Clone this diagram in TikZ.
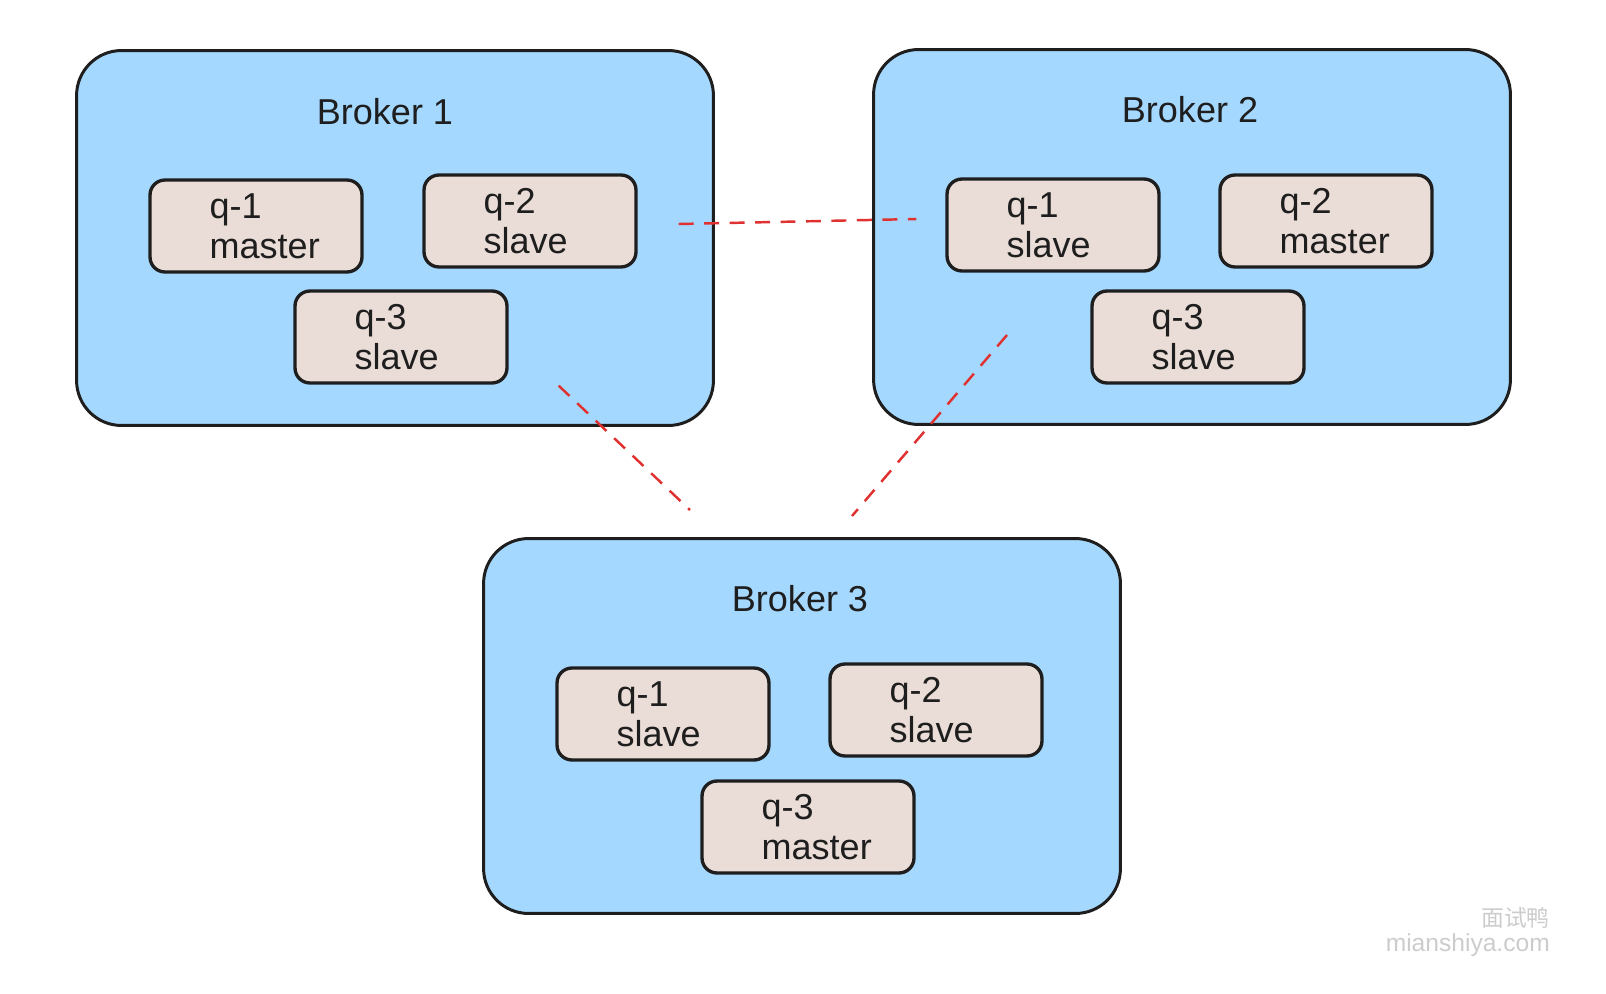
\documentclass[tikz,border=0pt]{standalone}
\usepackage{fontspec}
\setmainfont{Liberation Sans}
\newfontfamily\cjk{Noto Sans CJK SC}
\usetikzlibrary{positioning, calc}

\definecolor{ink}{HTML}{1E1E1E}
\definecolor{sky}{HTML}{A5D8FF}
\definecolor{sand}{HTML}{EADDD7}
\definecolor{link}{HTML}{E03131}

\tikzset{
  broker/.style={draw=ink, fill=sky, line width=1.7pt, rounded corners=0.9cm,
    minimum width=12.74cm, minimum height=7.5cm},
  qbox/.style={draw=ink, fill=sand, line width=1.9pt, rounded corners=0.3cm,
    minimum width=4.24cm, minimum height=1.84cm},
  qtext/.style={align=left, inner sep=0pt, font=\fontsize{20.5}{23}\selectfont, text=ink},
  title/.style={font=\fontsize{20.5}{25}\selectfont, text=ink},
  repl/.style={draw=link, line width=1.4pt, dash pattern=on 8.5pt off 6pt},
}

\begin{document}
\begin{tikzpicture}[x=0.02cm, y=-0.02cm]
        \useasboundingbox (0,0) rectangle (1606,994);
        % brokers
        \node[broker] (b1) at (395,238) {};
        \node[broker] (b2) at (1192,237) {};
        \node[broker] (b3) at (802,726) {};
        \node[title] at ($(b1.north)+(-10,63)$) {Broker 1};
        \node[title] at ($(b2.north)+(-2,62)$) {Broker 2};
        \node[title] at ($(b3.north)+(-2,62)$) {Broker 3};

        % queues of broker 1
        \node[qbox] (b1q1) at (256,226) {};
        \node[qbox] (b1q2) at (530,221) {};
        \node[qbox] (b1q3) at (401,337) {};
        \node[qtext, right=1.22cm of b1q1.west] {q-1\\master};
        \node[qtext, right=1.22cm of b1q2.west] {q-2\\slave};
        \node[qtext, right=1.22cm of b1q3.west] {q-3\\slave};

        % queues of broker 2
        \node[qbox] (b2q1) at (1053,225) {};
        \node[qbox] (b2q2) at (1326,221) {};
        \node[qbox] (b2q3) at (1198,337) {};
        \node[qtext, right=1.22cm of b2q1.west] {q-1\\slave};
        \node[qtext, right=1.22cm of b2q2.west] {q-2\\master};
        \node[qtext, right=1.22cm of b2q3.west] {q-3\\slave};

        % queues of broker 3
        \node[qbox] (b3q1) at (663,714) {};
        \node[qbox] (b3q2) at (936,710) {};
        \node[qbox] (b3q3) at (808,827) {};
        \node[qtext, right=1.22cm of b3q1.west] {q-1\\slave};
        \node[qtext, right=1.22cm of b3q2.west] {q-2\\slave};
        \node[qtext, right=1.22cm of b3q3.west] {q-3\\master};

        % replication links
        \coordinate (l1a) at ($(b1q2.east)+(41,3)$);
        \coordinate (l1b) at ($(b2q1.west)+(-29,-6)$);
        \coordinate (l2a) at ($(b1q3.south east)+(50,1)$);
        \coordinate (l2b) at (690,510);
        \coordinate (l3a) at (1007,335);
        \coordinate (l3b) at (852,516);
        \draw[repl] (l1a) -- (l1b);
        \draw[repl] (l2a) -- (l2b);
        \draw[repl] (l3a) -- (l3b);

        % watermark
        \node[anchor=east, text=gray!40, font=\cjk\fontsize{13}{15}\selectfont] (wm1) at (1556,918) {面试鸭};
        \node[anchor=east, text=gray!40, font=\fontsize{14}{16}\selectfont] (wm2) at (1556,945) {mianshiya.com};
\end{tikzpicture}
\end{document}
